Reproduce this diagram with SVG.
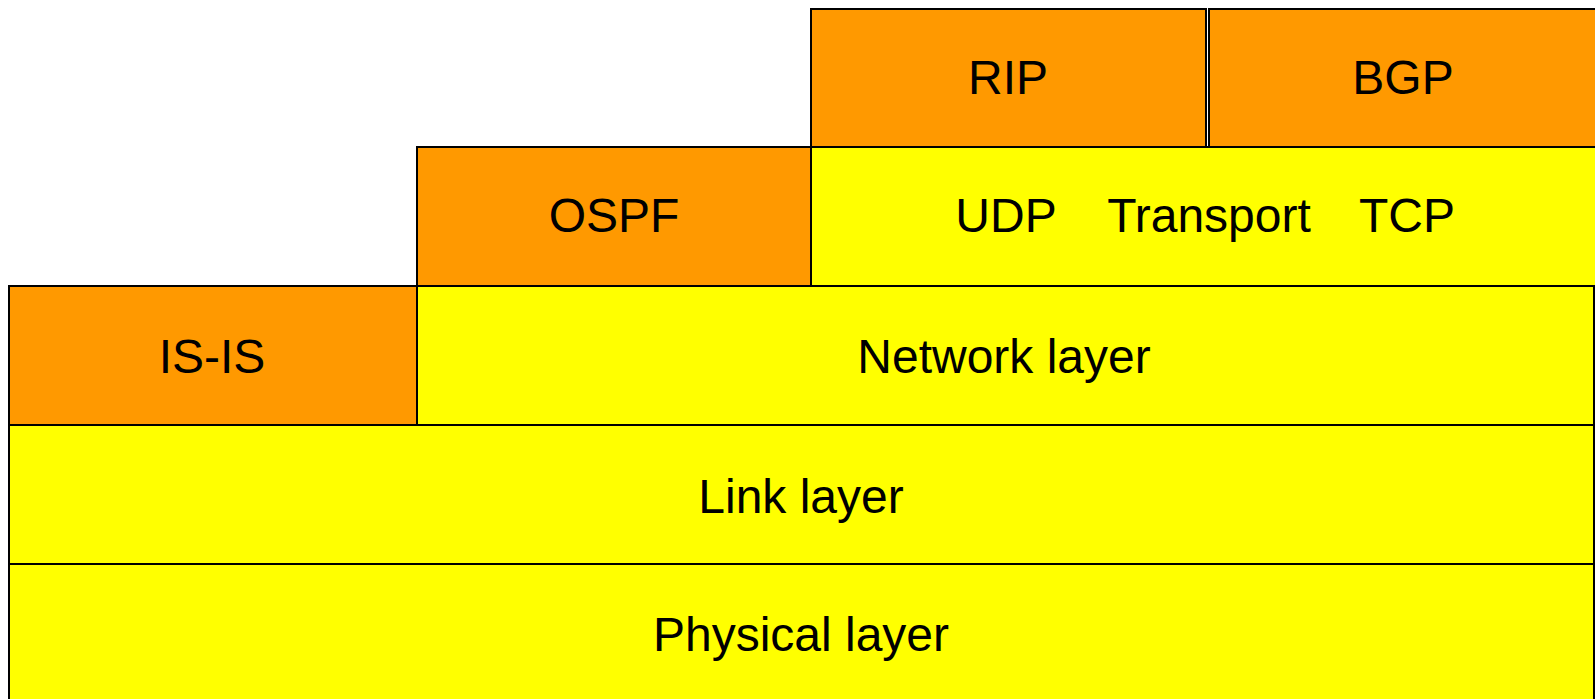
<svg xmlns="http://www.w3.org/2000/svg" width="1595" height="699" viewBox="0 0 1595 699">
<style>
.o{fill:#FF9900;stroke:#000;stroke-width:2}
.y{fill:#FFFF00;stroke:#000;stroke-width:2}
text{font-family:"Comic Sans MS","Liberation Sans",sans-serif;font-size:48px;fill:#000;text-anchor:middle}
</style>
<rect width="1595" height="699" fill="#fff"/>
<g id="physical"><rect class="y" x="9" y="564" width="1585" height="140"/><text x="801" y="651">Physical layer</text></g>
<g id="link"><rect class="y" x="9" y="425" width="1585" height="139"/><text x="801" y="513">Link layer</text></g>
<g id="network"><rect class="y" x="417" y="286" width="1177" height="139"/><text x="1004" y="373">Network layer</text></g>
<g id="isis"><rect class="o" x="9" y="286" width="408" height="139"/><text x="212" y="373">IS-IS</text></g>
<g id="transport"><rect class="y" x="811" y="147" width="800" height="139"/><text y="232"><tspan x="1006">UDP</tspan><tspan x="1209">Transport</tspan><tspan x="1407">TCP</tspan></text></g>
<g id="ospf"><rect class="o" x="417" y="147" width="394" height="139"/><text x="614" y="232">OSPF</text></g>
<g id="rip"><rect class="o" x="811" y="9" width="395" height="138"/><text x="1008" y="94">RIP</text></g>
<g id="bgp"><rect class="o" x="1209" y="9" width="400" height="138"/><text x="1403" y="94">BGP</text></g>
<g id="connectors"></g>
</svg>
